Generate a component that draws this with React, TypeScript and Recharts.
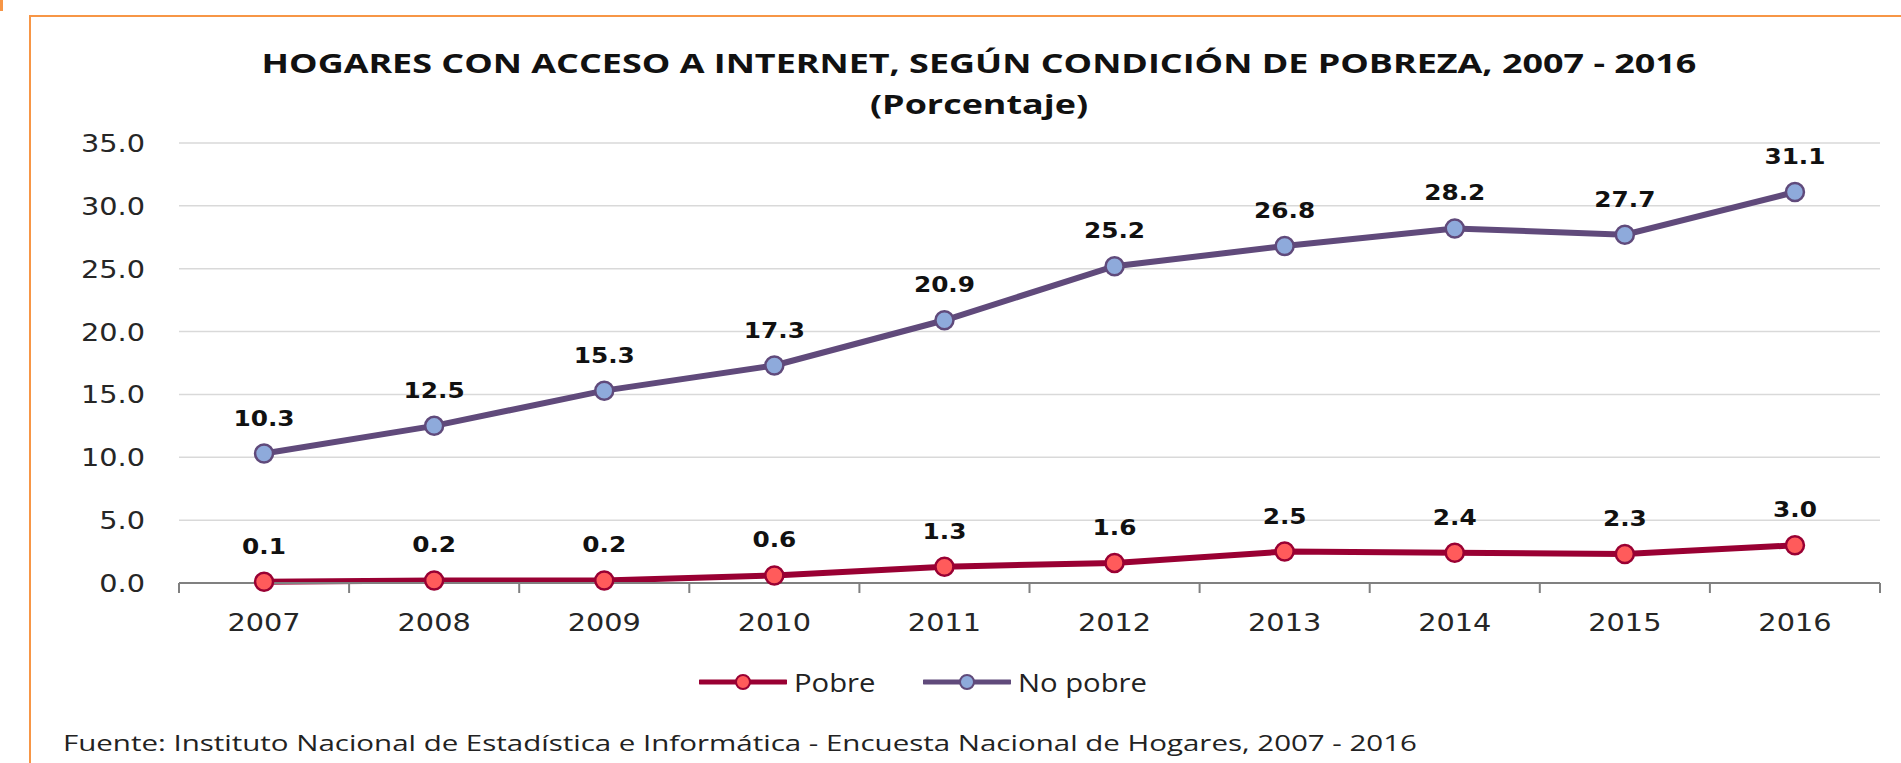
import React from 'react';
import { LineChart, Line, XAxis, YAxis, CartesianGrid, Legend, LabelList } from 'recharts';

const years = ['2007', '2008', '2009', '2010', '2011', '2012', '2013', '2014', '2015', '2016'];
const pobre = [0.1, 0.2, 0.2, 0.6, 1.3, 1.6, 2.5, 2.4, 2.3, 3.0];
const noPobre = [10.3, 12.5, 15.3, 17.3, 20.9, 25.2, 26.8, 28.2, 27.7, 31.1];
const yTicks = [0, 5, 10, 15, 20, 25, 30, 35];
const boundaryTicks = [0, 1, 2, 3, 4, 5, 6, 7, 8, 9, 10];

const POBRE_LINE = '#990033';
const POBRE_DOT = '#FF5B5B';
const NOPOBRE_LINE = '#604A7B';
const NOPOBRE_DOT = '#8EAADB';

const data = years.map((year, i) => ({
  year,
  pos: i + 0.5,
  pobre: pobre[i],
  noPobre: noPobre[i],
}));

// the source image is stretched sideways, so text gets a small horizontal scale
const renderLabel = (props: any) => {
  const { x, y, value } = props;
  return (
    <text
      transform={`translate(${x},${y - 28}) scale(1.18,1)`}
      textAnchor="middle"
      fontFamily="DejaVu Sans"
      fontWeight="bold"
      fontSize={21}
      fill="#111"
    >
      {Number(value).toFixed(1)}
    </text>
  );
};

const YTick = (props: any) => {
  const { x, y, payload } = props;
  return (
    <text
      transform={`translate(${x},${y + 9}) scale(1.15,1)`}
      textAnchor="end"
      fontFamily="DejaVu Sans"
      fontSize={25}
      fill="#262626"
    >
      {Number(payload.value).toFixed(1)}
    </text>
  );
};

const XTick = (props: any) => {
  const { x, y, payload } = props;
  return (
    <text
      transform={`translate(${x},${y + 36}) scale(1.15,1)`}
      textAnchor="middle"
      fontFamily="DejaVu Sans"
      fontSize={25}
      fill="#262626"
    >
      {payload.value}
    </text>
  );
};

const LegendIcon = ({ line, dot }: { line: string; dot: string }) => (
  <svg width={88} height={20} style={{ display: 'block' }}>
    <line x1={1} y1={10} x2={87} y2={10} stroke={line} strokeWidth={5} strokeLinecap="round" />
    <circle cx={44} cy={10} r={7} fill={dot} stroke={line} strokeWidth={2} />
  </svg>
);

const legendText: React.CSSProperties = {
  display: 'inline-block',
  transform: 'scaleX(1.17)',
  transformOrigin: 'left center',
};

const renderLegend = () => (
  <div style={{ display: 'flex', alignItems: 'center', fontFamily: 'Open Sans', fontSize: 25, color: '#222' }}>
    <LegendIcon line={POBRE_LINE} dot={POBRE_DOT} />
    <span style={{ ...legendText, marginLeft: 7, width: 129 }}>Pobre</span>
    <LegendIcon line={NOPOBRE_LINE} dot={NOPOBRE_DOT} />
    <span style={{ ...legendText, marginLeft: 7 }}>No pobre</span>
  </div>
);

export default function App() {
  return (
    <div style={{ position: 'absolute', left: 0, top: 0, width: 1901, height: 763, background: '#fff', overflow: 'hidden' }}>
      <div style={{ position: 'absolute', left: 0, top: 0, width: 3, height: 11, background: '#F79646' }} />
      <div
        style={{
          position: 'absolute',
          left: 29,
          top: 15,
          width: 1900,
          height: 800,
          borderLeft: '2px solid #F79646',
          borderTop: '2px solid #F79646',
        }}
      />
      <div style={{ position: 'absolute', left: 0, top: 0 }}>
        <LineChart width={1901} height={763} data={data} margin={{ top: 143, right: 21, left: 0, bottom: 128 }}>
          <CartesianGrid vertical={false} stroke="#D9D9D9" strokeWidth={1.5} xAxisId="a" />
          <YAxis
            domain={[0, 35]}
            ticks={yTicks}
            width={179}
            axisLine={false}
            tickLine={false}
            tickMargin={28}
            tick={<YTick />}
          />
          <XAxis
            xAxisId="b"
            dataKey="year"
            scale="band"
            height={40}
            axisLine={false}
            tickLine={false}
            tickSize={0}
            tickMargin={0}
            tick={<XTick />}
          />
          <XAxis
            xAxisId="a"
            type="number"
            dataKey="pos"
            domain={[0, 10]}
            ticks={boundaryTicks}
            height={12}
            tickSize={10}
            tickFormatter={() => ''}
            axisLine={{ stroke: '#808080', strokeWidth: 2 }}
            tickLine={{ stroke: '#808080', strokeWidth: 2 }}
          />
          <Legend
            verticalAlign="middle"
            layout="horizontal"
            content={renderLegend}
            wrapperStyle={{ left: 699, top: 665, width: 'auto' }}
          />
          <Line
            xAxisId="a"
            type="linear"
            dataKey="pobre"
            name="Pobre"
            stroke={POBRE_LINE}
            strokeWidth={6}
            dot={{ r: 9, fill: POBRE_DOT, stroke: POBRE_LINE, strokeWidth: 2.5 }}
            isAnimationActive={false}
          >
            <LabelList dataKey="pobre" content={renderLabel} />
          </Line>
          <Line
            xAxisId="a"
            type="linear"
            dataKey="noPobre"
            name="No pobre"
            stroke={NOPOBRE_LINE}
            strokeWidth={6}
            dot={{ r: 9, fill: NOPOBRE_DOT, stroke: NOPOBRE_LINE, strokeWidth: 2.5 }}
            isAnimationActive={false}
          >
            <LabelList dataKey="noPobre" content={renderLabel} />
          </Line>
        </LineChart>
      </div>
      <div
        style={{
          position: 'absolute',
          left: 0,
          width: 1958,
          top: 42,
          textAlign: 'center',
          fontFamily: 'Open Sans',
          fontWeight: 'bold',
          fontSize: 27,
          lineHeight: '41px',
          color: '#111',
        }}
      >
        <div style={{ transform: 'scaleX(1.33)' }}>HOGARES CON ACCESO A INTERNET, SEGÚN CONDICIÓN DE POBREZA, 2007 - 2016</div>
        <div style={{ transform: 'scaleX(1.33)' }}>(Porcentaje)</div>
      </div>
      <div
        style={{
          position: 'absolute',
          left: 63,
          top: 727,
          fontFamily: 'Open Sans',
          fontSize: 22,
          lineHeight: '30px',
          color: '#222',
          whiteSpace: 'nowrap',
          transform: 'scaleX(1.34)',
          transformOrigin: 'left center',
        }}
      >
        Fuente: Instituto Nacional de Estadística e Informática - Encuesta Nacional de Hogares, 2007 - 2016
      </div>
    </div>
  );
}
